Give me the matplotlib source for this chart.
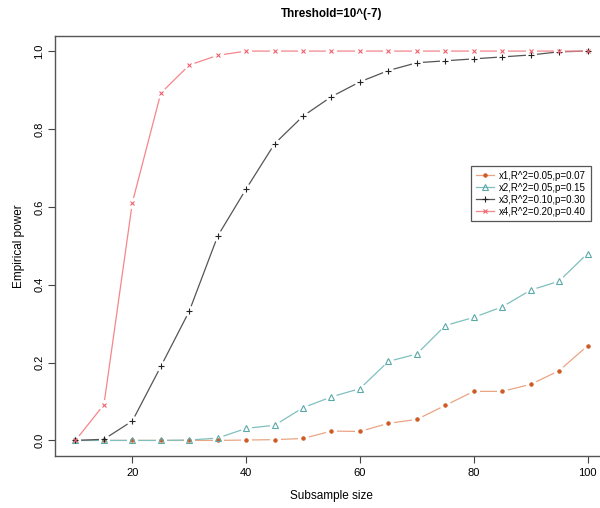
import numpy as np
import matplotlib.pyplot as plt
from matplotlib.lines import Line2D

plt.rcParams['font.family'] = ['Liberation Sans', 'DejaVu Sans']

# subsample sizes
sizes = [10, 15, 20, 25, 30, 35, 40, 45, 50, 55, 60, 65, 70, 75, 80, 85, 90, 95, 100]

# empirical power for each setting
power_x1 = [0, 0, 0, 0, 0, 0, 0.001, 0.002, 0.005, 0.024, 0.023, 0.044, 0.054,
            0.090, 0.126, 0.126, 0.144, 0.179, 0.243]
power_x2 = [0, 0, 0, 0, 0.001, 0.006, 0.031, 0.039, 0.084, 0.112, 0.133, 0.203,
            0.222, 0.295, 0.316, 0.343, 0.386, 0.409, 0.480]
power_x3 = [0, 0.003, 0.050, 0.190, 0.332, 0.525, 0.646, 0.762, 0.833, 0.883,
            0.921, 0.950, 0.970, 0.975, 0.980, 0.985, 0.990, 0.998, 1.0]
power_x4 = [0, 0.092, 0.611, 0.892, 0.964, 0.989, 1.0, 1.0, 1.0, 1.0, 1.0, 1.0,
            1.0, 1.0, 1.0, 1.0, 1.0, 1.0, 1.0]

labels = ["x1,R^2=0.05,p=0.07", "x2,R^2=0.05,p=0.15",
          "x3,R^2=0.10,p=0.30", "x4,R^2=0.20,p=0.40"]

# (line colour, marker colour, marker, marker size, filled)
styles = [
    ("#e9a585", "#cf5a24", "o", 2.4, True),
    ("#7fc0bf", "#5aa9a8", "^", 4.2, False),
    ("#555555", "#222222", "+", 5.0, False),
    ("#f5868b", "#f0606a", "x", 3.2, False),
]

fig = plt.figure(figsize=(6.0, 5.08), dpi=100)
ax = fig.add_axes([55 / 600, 52 / 508, 553 / 600, 420.5 / 508])

series = [power_x1, power_x2, power_x3, power_x4]
handles = []
for vals, lab, (lc, mc, mk, ms, filled) in zip(series, labels, styles):
    # R type="b": line segments with gaps around the points
    ax.plot(sizes, vals, color=lc, lw=0.9, zorder=2)
    ax.plot(sizes, vals, ls="none", marker="o", ms=8, mfc="white",
            mec="none", zorder=3)
    ax.plot(sizes, vals, ls="none", marker=mk, ms=ms,
            mfc=mc if filled else "none", mec=mc, mew=0.8, zorder=4)
    handles.append(Line2D([], [], color=lc, lw=0.9, marker=mk, ms=ms,
                          mfc=mc if filled else "none", mec=mc, mew=0.8))

ax.set_xlim(6.4, 103.6)
ax.set_ylim(-0.04, 1.04)
ax.set_xticks([20, 40, 60, 80, 100])
ax.set_yticks([0.0, 0.2, 0.4, 0.6, 0.8, 1.0])
ax.set_yticklabels(["0.0", "0.2", "0.4", "0.6", "0.8", "1.0"], rotation=90,
                   va="center")
ax.tick_params(direction="out", length=5, width=0.8, colors="#444444",
               labelcolor="black", labelsize=8, pad=4)
ax.tick_params(axis="y", pad=2.5)

for s in ax.spines.values():
    s.set_color("#555555")
    s.set_linewidth(1.0)

ax.set_xlabel("Subsample size", fontsize=8.5, labelpad=8)
ax.set_ylabel("Empirical power", fontsize=8.5, labelpad=7)
ax.set_title("Threshold=10^(-7)", fontsize=8.4, fontweight="bold", pad=13)

leg = ax.legend(handles=handles, labels=labels, loc="upper right",
                bbox_to_anchor=(0.969, 0.690), borderaxespad=0,
                fontsize=7, handlelength=1.9, fancybox=False, framealpha=1,
                labelspacing=0.2, borderpad=0.5, handletextpad=0.5)
leg.get_frame().set_edgecolor("#555555")
leg.get_frame().set_linewidth(0.9)

fig.savefig("out.png", dpi=100)
